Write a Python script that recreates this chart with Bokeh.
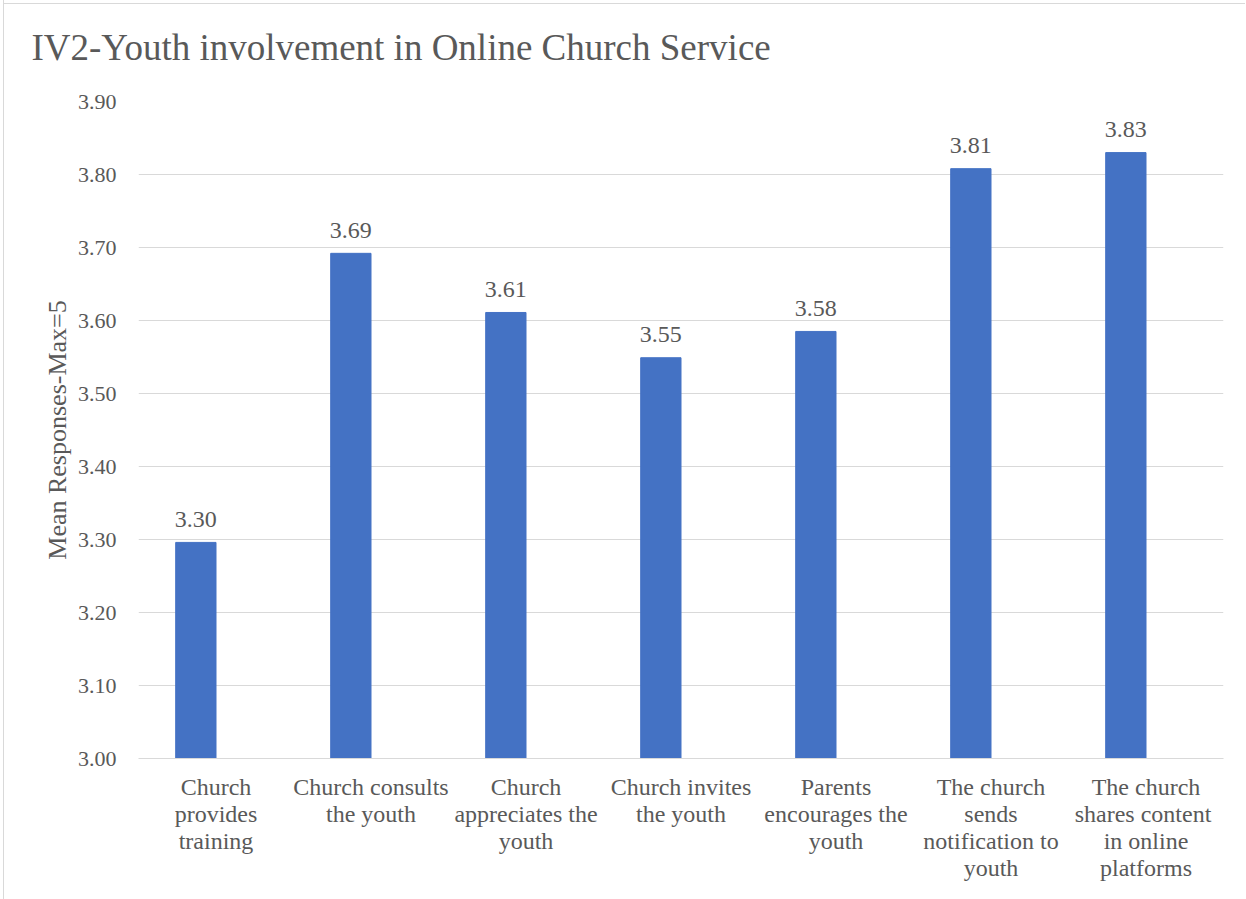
from bokeh.plotting import figure
from bokeh.models import FactorRange, Range1d, FixedTicker, NumeralTickFormatter, ColumnDataSource
from bokeh.core.properties import value
from bokeh.transform import dodge
from bokeh.embed import file_html
from bokeh.resources import INLINE

title_text = "IV2-Youth involvement in  Online Church Service"
categories = [
    "Church\nprovides\ntraining",
    "Church consults\nthe youth",
    "Church\nappreciates the\nyouth",
    "Church invites\nthe youth",
    "Parents\nencourages the\nyouth",
    "The church\nsends\nnotification to\nyouth",
    "The church\nshares  content\nin online\nplatforms",
]
means = [3.296, 3.692, 3.611, 3.549, 3.585, 3.808, 3.830]
y_ticks = [3.0, 3.1, 3.2, 3.3, 3.4, 3.5, 3.6, 3.7, 3.8, 3.9]

FONT = "Liberation Serif"
GREY = "#595959"

src = ColumnDataSource(dict(cat=categories, mean=means,
                            lab=["%.2f" % v for v in means]))

p = figure(x_range=FactorRange(*categories), y_range=Range1d(3.0, 3.9),
           width=1242, height=912, output_backend="svg", toolbar_location=None,
           min_border_left=134, min_border_right=23, min_border_top=114,
           min_border_bottom=141, title=title_text)
p.border_fill_color = None
p.background_fill_color = "white"
p.styles = {"margin-left": "3px", "margin-top": "-13px",
            "border-left": "1px solid #d9d9d9",
            "background-image": "linear-gradient(#d9d9d9, #d9d9d9)",
            "background-size": "100% 1px",
            "background-repeat": "no-repeat",
            "background-position": "0 16px"}

p.title.text_font = FONT
p.title.text_font_size = "37px"
p.title.text_font_style = "normal"
p.title.text_color = GREY
p.title.offset = -107
p.title.vertical_align = "top"
p.title.standoff = 64

shift = dodge("cat", -0.13, range=p.x_range)
p.vbar(x=shift, top="mean", bottom=3.0, width=0.26, source=src,
       fill_color="#4472C4", line_color="#4472C4")
p.text(x=shift, y="mean", text="lab", source=src, text_align="center",
       text_baseline="alphabetic", y_offset=-23, text_font=value(FONT),
       text_font_size="24px", text_color=GREY)

p.outline_line_color = None
p.xgrid.grid_line_color = None
p.ygrid.grid_line_color = "#d9d9d9"
p.ygrid.grid_line_width = 1

p.yaxis.ticker = FixedTicker(ticks=y_ticks)
p.yaxis.formatter = NumeralTickFormatter(format="0.00")
p.yaxis.axis_line_color = None
p.yaxis.major_tick_line_color = None
p.yaxis.minor_tick_line_color = None
p.yaxis.major_label_text_font = FONT
p.yaxis.major_label_text_font_size = "22px"
p.yaxis.major_label_text_color = GREY
p.yaxis.major_label_standoff = 16
p.yaxis.axis_label = "Mean Responses-Max=5"
p.yaxis.axis_label_text_font = FONT
p.yaxis.axis_label_text_font_size = "26px"
p.yaxis.axis_label_text_font_style = "normal"
p.yaxis.axis_label_text_color = GREY
p.yaxis.axis_label_standoff = 3

p.xaxis.axis_line_color = "#d9d9d9"
p.xaxis.major_tick_line_color = None
p.xaxis.minor_tick_line_color = None
p.xaxis.major_label_text_font = FONT
p.xaxis.major_label_text_font_size = "24px"
p.xaxis.major_label_text_line_height = 1.05
p.xaxis.major_label_text_color = GREY
p.xaxis.major_label_standoff = 9
p.xaxis.major_label_orientation = "horizontal"

open("out.html", "w").write(file_html(p, INLINE))
